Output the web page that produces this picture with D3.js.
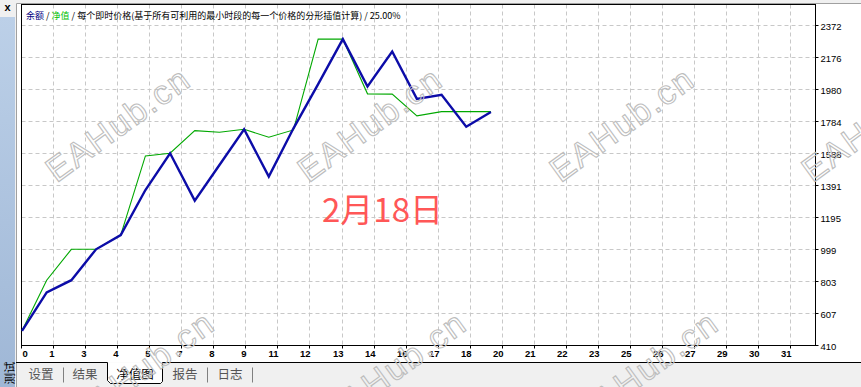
<!DOCTYPE html>
<html>
<head>
<meta charset="utf-8">
<script src="https://cdn.jsdelivr.net/npm/d3@7"></script>
<style>
    html, body { margin: 0; padding: 0; background: #f0f0f0; overflow: hidden; }
    svg { display: block; }
</style>
</head>
<body>
<svg id="chart" width="861" height="387"></svg>
<script>
//**********  Tester equity graph (balance / equity per trade)  **************

// ---- data ----
var balance = [500, 735, 810, 999, 1086, 1362, 1587, 1297, 1515, 1734, 1444, 1740, 2010, 2286, 1996, 2210, 1920, 1945, 1750, 1840];
var equity = [500, 810, 999, 999, 1086, 1571, 1587, 1726, 1716, 1734, 1685, 1730, 2286, 2286, 1951, 1949, 1816, 1842, 1842, 1842];
var yTicks = [410, 607, 803, 999, 1195, 1391, 1588, 1784, 1980, 2176, 2372];
var xTickLabels = ["0", "1", "3", "4", "5", "7", "8", "9", "11", "12", "13", "14", "16", "17", "18", "20", "21", "22", "23", "25", "26", "27", "29", "30", "31"];
var tabNames = ["设置", "结果", "净值图", "报告", "日志"];
var activeTab = "净值图";

// ---- layout ----
var svgWidth = 861;
var svgHeight = 387;
var plot = { left: 21.5, right: 815.5, top: 4.5, bottom: 345.5 };
var tradeStep = 24.68;   // px per trade
var gridStep = 32.05;    // px between date ticks
var tabTop = 362.5;
var tabCenters = [41, 85, 135, 185, 230];
var tabSeparators = [63.5, 207.5, 252.5];
var watermarks = [[118, 124], [370, 124], [622, 124], [874, 124], [142, 368], [394, 368], [646, 368]];

var blueColor = "#0c0ca8";
var greenColor = "#00a800";
var gridColor = "#c8c8c8";
var labelFont = "'Liberation Sans', Arial, sans-serif";
var cjkFont = "'Noto Sans CJK SC', 'Noto Sans', sans-serif";

var svg = d3.select("#chart");

// scales
var xScale = d3.scaleLinear()
    .domain([0, 32])
    .range([22, 22 + 32 * tradeStep]);

var xTickScale = d3.scalePoint()
    .domain(xTickLabels)
    .range([plot.left, plot.left + (xTickLabels.length - 1) * gridStep]);

var yScale = d3.scaleLinear()
    .domain([410, 2498])
    .range([plot.bottom, plot.top]);

function crisp(v) {
    return Math.round(v - 0.5) + 0.5;
}

// white panel
svg.append("rect")
    .attr("x", 16).attr("y", 3)
    .attr("width", svgWidth - 16).attr("height", tabTop - 3)
    .attr("fill", "#ffffff");
svg.append("path")
    .attr("d", "M16.5," + svgHeight + " V3.5 H" + svgWidth)
    .attr("fill", "none")
    .attr("stroke", "#a0a0a0");

/////////////////////////////////////////////////////////////////////
//                        GRID                                     //
/////////////////////////////////////////////////////////////////////
svg.append("g")
    .selectAll("line")
    .data(yTicks.slice(1))
    .enter()
    .append("line")
    .attr("x1", plot.left).attr("x2", plot.right)
    .attr("y1", d => crisp(yScale(d)))
    .attr("y2", d => crisp(yScale(d)))
    .attr("stroke", gridColor)
    .attr("stroke-dasharray", "4,3");

svg.append("g")
    .selectAll("line")
    .data(xTickLabels.slice(1))
    .enter()
    .append("line")
    .attr("x1", d => crisp(xTickScale(d)))
    .attr("x2", d => crisp(xTickScale(d)))
    .attr("y1", plot.top).attr("y2", plot.bottom)
    .attr("stroke", gridColor)
    .attr("stroke-dasharray", "4,3");

// frame
svg.append("rect")
    .attr("x", plot.left).attr("y", plot.top)
    .attr("width", plot.right - plot.left)
    .attr("height", plot.bottom - plot.top)
    .attr("fill", "none")
    .attr("stroke", "#000");

/////////////////////////////////////////////////////////////////////
//                        LINES                                    //
/////////////////////////////////////////////////////////////////////
var line = d3.line()
    .x((d, i) => xScale(i))
    .y(d => yScale(d));

svg.append("path")
    .datum(equity)
    .attr("d", line)
    .attr("fill", "none")
    .attr("stroke", greenColor)
    .attr("stroke-width", 1.1);

svg.append("path")
    .datum(balance)
    .attr("d", line)
    .attr("fill", "none")
    .attr("stroke", blueColor)
    .attr("stroke-width", 2.4)
    .attr("stroke-linejoin", "miter");

/////////////////////////////////////////////////////////////////////
//                        AXES                                     //
/////////////////////////////////////////////////////////////////////
var yAxis = d3.axisRight(yScale)
    .tickValues(yTicks)
    .tickSize(3)
    .tickPadding(2)
    .tickFormat(d3.format("d"));

svg.append("g")
    .attr("transform", "translate(" + plot.right + ",0)")
    .call(yAxis)
    .call(g => g.select(".domain").remove())
    .call(g => g.selectAll(".tick").attr("transform", d => "translate(0," + crisp(yScale(d)) + ")"))
    .call(g => g.selectAll(".tick line").attr("stroke", "#000"))
    .call(g => g.selectAll(".tick text")
        .attr("fill", "#000")
        .attr("dy", "0.45em")
        .style("font-family", labelFont)
        .style("font-size", "9.5px"));

var xAxis = d3.axisBottom(xTickScale)
    .tickSize(3)
    .tickPadding(2);

svg.append("g")
    .attr("transform", "translate(0," + plot.bottom + ")")
    .call(xAxis)
    .call(g => g.select(".domain").remove())
    .call(g => g.selectAll(".tick").attr("transform", d => "translate(" + crisp(xTickScale(d)) + ",0)"))
    .call(g => g.selectAll(".tick line").attr("stroke", "#000"))
    .call(g => g.selectAll(".tick text")
        .attr("fill", "#000")
        .attr("text-anchor", (d, i) => i == 0 ? "start" : "end")
        .attr("x", 1)
        .attr("dy", "0.71em")
        .style("font-family", labelFont)
        .style("font-size", "9.5px")
        .style("font-weight", "bold"));

// title
var title = svg.append("text")
    .attr("x", 26).attr("y", 19)
    .style("font-family", cjkFont)
    .style("font-size", "9px")
    .attr("fill", "#000");
title.append("tspan").attr("fill", "#000080").text("余额");
title.append("tspan").text(" / ");
title.append("tspan").attr("fill", "#00c000").text("净值");
title.append("tspan").text(" / 每个即时价格(基于所有可利用的最小时段的每一个价格的分形插值计算) / 25.00%");

// date stamp
svg.append("text")
    .attr("x", 322).attr("y", 222)
    .style("font-family", cjkFont)
    .style("font-size", "33px")
    .attr("fill", "#ff5757")
    .text("2月18日");

/////////////////////////////////////////////////////////////////////
//                        TABS                                     //
/////////////////////////////////////////////////////////////////////
var activeIndex = tabNames.indexOf(activeTab);
var activeLeft = 107.5;
var activeRight = 162.5;

svg.append("path")
    .attr("d", "M16," + tabTop + " H" + activeLeft + " V" + (tabTop + 18) + " L" + (activeLeft + 3) + "," + (tabTop + 21) +
        " H" + (activeRight - 2) + " L" + activeRight + "," + (tabTop + 19) + " V" + tabTop + " H" + svgWidth)
    .attr("fill", "none")
    .attr("stroke", "#000");
svg.append("path")
    .attr("d", "M" + (activeLeft + 0.5) + "," + tabTop + " V" + (tabTop + 18) + " L" + (activeLeft + 3) + "," + (tabTop + 20.5) +
        " H" + (activeRight - 2) + " L" + (activeRight - 0.5) + "," + (tabTop + 19) + " V" + tabTop + " Z")
    .attr("fill", "#ffffff");

svg.append("g")
    .selectAll("line")
    .data(tabSeparators)
    .enter()
    .append("line")
    .attr("x1", d => d).attr("x2", d => d)
    .attr("y1", tabTop + 5).attr("y2", tabTop + 20)
    .attr("stroke", "#808080");

svg.append("g")
    .selectAll("text")
    .data(tabNames)
    .enter()
    .append("text")
    .attr("x", (d, i) => tabCenters[i])
    .attr("y", tabTop + 16)
    .attr("text-anchor", "middle")
    .style("font-family", cjkFont)
    .style("font-size", "12.5px")
    .attr("fill", (d, i) => i == activeIndex ? "#000" : "#555")
    .text(d => d);

// left strip
var grad = svg.append("defs").append("linearGradient")
    .attr("id", "strip").attr("x1", 0).attr("y1", 0).attr("x2", 0).attr("y2", 1);
grad.append("stop").attr("offset", "0%").attr("stop-color", "#bcd0e8");
grad.append("stop").attr("offset", "100%").attr("stop-color", "#9fb7d6");

svg.append("rect")
    .attr("x", 0).attr("y", 17)
    .attr("width", 15).attr("height", svgHeight - 17)
    .attr("fill", "url(#strip)");

svg.append("text")
    .attr("x", 7.5).attr("y", 11)
    .attr("text-anchor", "middle")
    .style("font-family", labelFont)
    .style("font-size", "11px")
    .style("font-weight", "bold")
    .attr("fill", "#000")
    .text("x");

svg.append("text")
    .attr("transform", "translate(13.5,373) rotate(-90)")
    .attr("text-anchor", "middle")
    .style("font-family", cjkFont)
    .style("font-size", "11.5px")
    .attr("fill", "#000")
    .text("测试");

// watermarks
svg.append("g")
    .selectAll("text")
    .data(watermarks)
    .enter()
    .append("text")
    .attr("transform", d => "translate(" + d[0] + "," + d[1] + ") rotate(-36)")
    .attr("text-anchor", "middle")
    .attr("dy", "0.35em")
    .style("font-family", labelFont)
    .style("font-size", "34px")
    .style("letter-spacing", "2px")
    .attr("fill", "none")
    .attr("stroke", "#bdbdbd")
    .attr("stroke-width", 1.1)
    .text("EAHub.cn");
</script>
</body>
</html>
